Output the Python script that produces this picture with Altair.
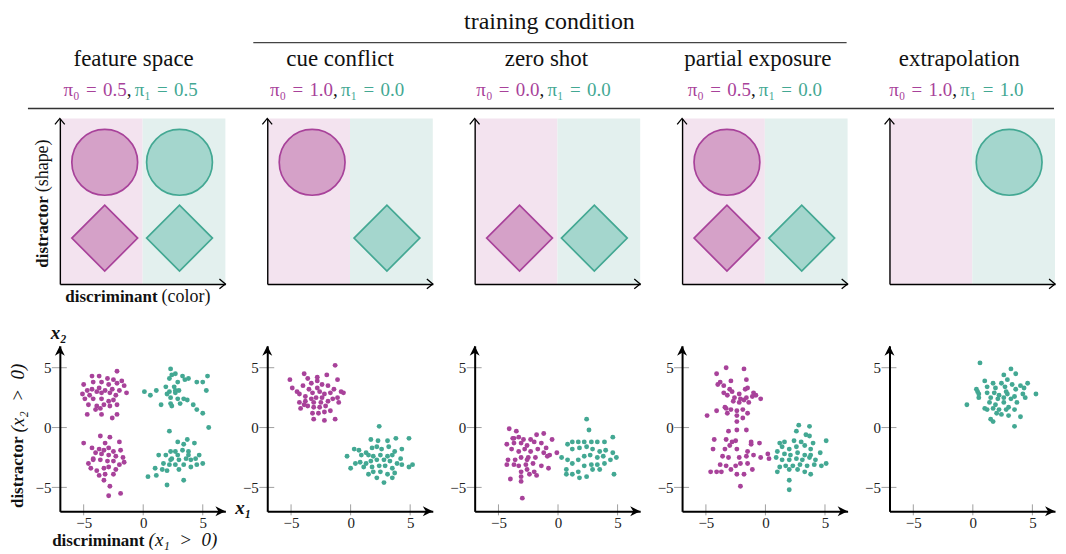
import altair as alt
import pandas as pd

# ---------------- data ----------------
COLUMN_TITLES = ["feature space", "cue conflict", "zero shot", "partial exposure", "extrapolation"]
PI0 = ["0.5", "1.0", "0.0", "0.5", "1.0"]
PI1 = ["0.5", "0.0", "0.0", "0.0", "1.0"]
GROUP_TITLE = "training condition"
CLASSES = ["0", "1"]
SHAPES = ["circle", "diamond"]
CONCEPT_ITEMS = [
    [("0", "circle"), ("1", "circle"), ("0", "diamond"), ("1", "diamond")],
    [("0", "circle"), ("1", "diamond")],
    [("0", "diamond"), ("1", "diamond")],
    [("0", "circle"), ("0", "diamond"), ("1", "diamond")],
    [("1", "circle")],
]
CLASS_POS = {"0": 45, "1": 120}
SHAPE_POS = {"circle": 122, "diamond": 46}
TICK_VALUES = [-5, 0, 5]

FS_0 = [(-2.2,4.7),(-4.3,4.3),(-3.7,4.3),(-3.0,4.1),(-2.5,4.0),(-1.8,3.9),(-5.0,3.6),(-4.2,3.8),(-3.5,3.8),(-2.9,3.6),
        (-2.2,3.7),(-1.6,3.5),(-4.7,3.1),(-4.3,3.2),(-3.7,3.3),(-3.2,3.1),(-2.6,3.2),(-2.0,3.1),(-1.4,2.9),(-5.1,2.8),
        (-4.5,2.7),(-3.9,3.0),(-3.5,2.9),(-2.8,2.9),(-2.3,2.7),(-4.9,2.4),(-4.2,2.4),(-3.5,2.4),(-2.9,2.2),(-2.5,2.3),
        (-4.6,1.9),(-3.9,1.8),(-3.3,1.9),(-2.8,1.8),(-2.2,1.9),(-4.0,1.5),(-3.6,1.6),(-4.7,1.1),(-3.5,1.1),(-2.6,0.8),(-2.2,1.1),
        (-5.0,-1.3),(-3.6,-0.7),(-2.8,-0.8),(-3.2,-1.3),(-2.0,-1.2),(-4.3,-1.7),(-3.7,-1.8),(-3.3,-1.9),(-2.9,-1.7),(-2.5,-2.0),
        (-1.9,-1.9),(-4.0,-2.1),(-3.5,-2.2),(-2.9,-2.3),(-2.3,-2.4),(-1.7,-2.5),(-4.6,-3.0),(-4.2,-2.7),(-3.6,-2.7),(-3.0,-2.8),
        (-2.5,-2.8),(-2.0,-3.1),(-4.4,-3.4),(-3.9,-3.6),(-3.3,-3.4),(-2.9,-3.3),(-2.3,-3.5),(-3.7,-4.0),(-3.2,-3.9),(-2.5,-3.9),
        (-3.3,-4.4),(-2.8,-4.9),(-2.9,-5.7),(-1.9,-5.5),(-4.2,-2.6),(-1.6,-2.9)]
FS_1 = [(0.1,3.0),(1.1,3.1),(0.6,2.7),(2.3,4.9),(2.4,4.4),(2.7,4.5),(3.3,4.3),(3.8,4.1),(4.5,3.8),(5.0,3.8),(5.4,4.3),
        (5.3,3.1),(2.2,4.1),(2.9,3.8),(3.5,4.0),(1.9,3.4),(2.6,3.4),(3.0,3.1),(2.7,2.9),(2.0,2.8),(2.3,2.5),(2.9,2.4),
        (3.4,2.4),(3.1,2.0),(1.5,1.9),(2.4,1.8),(3.7,2.3),(4.2,1.9),(4.5,1.5),(5.0,1.2),(2.3,2.0),(2.7,3.1),(2.2,3.0),(5.5,0.0),
        (2.2,-0.3),(3.7,-1.0),(2.9,-1.2),(3.4,-1.4),(4.3,-1.3),(4.7,-2.3),(2.3,-2.0),(2.7,-2.0),(3.3,-1.9),(3.8,-2.0),
        (4.4,-2.6),(5.0,-3.0),(1.3,-2.3),(1.9,-2.3),(2.4,-2.6),(3.0,-2.7),(3.6,-2.6),(4.0,-2.7),(4.5,-3.1),(1.7,-3.0),
        (2.2,-3.1),(2.7,-3.1),(3.4,-3.1),(4.0,-3.3),(1.0,-3.4),(1.6,-3.5),(2.0,-3.6),(3.0,-3.5),(1.1,-4.0),(0.4,-4.1),
        (2.0,-4.8),(3.4,-4.4),(2.3,-2.7),(2.9,-2.3),(3.8,-2.3)]
CC_0 = [(-5.1,4.0),(-3.9,4.5),(-3.6,4.1),(-2.8,4.2),(-2.0,4.4),(-1.3,5.2),(-1.1,4.0),(-4.9,3.3),(-4.5,3.0),(-4.0,3.5),
        (-3.3,3.7),(-2.8,3.9),(-2.4,3.6),(-1.9,3.5),(-1.4,3.2),(-0.8,3.0),(-0.6,2.9),(-4.3,2.8),(-3.8,2.6),(-3.2,2.9),
        (-2.6,3.0),(-2.2,2.8),(-1.7,2.9),(-1.1,2.5),(-4.3,2.1),(-3.8,2.2),(-3.3,2.4),(-2.9,2.5),(-2.5,2.1),(-1.9,2.2),
        (-1.5,2.4),(-1.0,2.1),(-4.2,1.6),(-3.6,1.8),(-3.1,1.7),(-2.6,1.7),(-2.1,1.8),(-1.7,1.4),(-3.9,1.9),(-3.2,1.2),
        (-2.7,1.2),(-2.2,1.3),(-3.1,0.7),(-2.2,0.6),(-1.3,0.7),(-2.8,3.3),(-3.5,3.2),(-3.1,2.1),(-2.4,2.5)]
CC_1 = [(2.4,0.1),(1.7,-1.0),(2.3,-1.1),(3.1,-1.1),(3.8,-0.9),(4.9,-0.9),(0.3,-1.8),(0.7,-1.9),(1.3,-2.1),(1.8,-1.7),
        (2.2,-1.6),(2.6,-1.8),(3.2,-1.6),(3.7,-2.0),(4.3,-1.8),(-0.3,-2.4),(0.9,-2.3),(1.5,-2.3),(1.9,-2.4),(2.5,-2.3),
        (3.1,-2.4),(3.5,-2.3),(4.2,-2.6),(0.0,-3.4),(0.4,-3.0),(0.8,-2.9),(1.3,-3.0),(1.7,-2.8),(2.2,-2.7),(2.8,-2.7),
        (3.3,-2.8),(3.9,-3.0),(4.3,-3.1),(1.1,-3.3),(1.8,-3.3),(2.4,-3.2),(2.9,-3.2),(3.5,-3.4),(1.5,-3.9),(1.9,-3.7),
        (2.5,-3.7),(3.1,-3.9),(3.7,-3.8),(4.9,-3.3),(5.2,-3.1),(2.2,-4.2),(2.8,-4.6),(3.5,-4.2)]
ZS_0 = [(-4.1,-0.1),(-3.5,-0.3),(-3.8,-0.9),(-3.3,-0.8),(-2.9,-1.0),(-2.3,-1.0),(-1.8,-0.6),(-1.2,-0.5),(-4.3,-1.4),
        (-3.7,-1.3),(-3.1,-1.3),(-2.6,-1.5),(-2.0,-1.2),(-1.4,-1.3),(-1.0,-1.7),(-0.5,-1.0),(-3.9,-1.8),(-3.3,-2.0),
        (-2.8,-1.8),(-2.3,-2.0),(-1.7,-1.8),(-1.2,-2.1),(-0.7,-2.3),(-0.1,-2.1),(-4.2,-2.7),(-3.6,-2.7),(-3.1,-2.5),
        (-2.5,-2.5),(-1.9,-2.5),(-0.9,-2.4),(-4.3,-3.1),(-3.7,-3.1),(-3.3,-3.2),(-2.7,-3.1),(-2.1,-3.0),(-1.4,-3.2),
        (-0.8,-3.4),(-3.1,-3.7),(-2.6,-3.5),(-2.0,-3.7),(-4.0,-4.3),(-3.1,-4.1),(-2.4,-3.9),(-1.8,-4.0),(-3.1,-4.5),
        (-3.0,-5.9),(-3.7,-0.9),(-2.6,-2.7)]
ZS_1 = [(2.4,0.7),(2.6,-0.2),(1.2,-1.2),(0.8,-1.4),(1.7,-1.2),(2.2,-1.2),(2.8,-1.2),(3.3,-1.2),(3.9,-1.2),(4.6,-0.8),
        (0.3,-2.5),(0.8,-2.7),(1.2,-1.8),(1.8,-1.7),(2.4,-1.6),(2.9,-1.8),(3.5,-2.0),(4.0,-1.9),(4.6,-2.1),(4.9,-2.5),
        (0.7,-3.5),(1.2,-3.0),(1.7,-2.7),(2.2,-2.4),(2.7,-2.3),(3.3,-2.5),(3.8,-2.4),(4.4,-2.7),(4.7,-3.9),(1.7,-3.7),
        (2.2,-3.2),(2.8,-3.1),(3.3,-3.1),(3.9,-3.0),(1.2,-3.9),(1.8,-4.2),(2.4,-4.1),(2.9,-3.5),(3.5,-3.5),(0.7,-3.9)]
PE_0 = [(-3.3,5.0),(-1.8,4.9),(-4.1,4.5),(-3.8,3.8),(-2.9,3.9),(-1.6,4.0),(-3.5,3.5),(-3.0,3.2),(-4.0,3.6),(-3.5,2.9),
        (-2.8,3.0),(-2.2,2.8),(-1.7,3.2),(-1.5,3.3),(-1.0,2.9),(-0.8,2.7),(-3.2,2.7),(-2.6,2.5),(-2.1,2.4),(-1.6,2.5),
        (-1.1,2.6),(-0.4,2.4),(-2.7,2.2),(-2.2,2.1),(-1.8,2.3),(-1.4,2.1),(-4.1,1.4),(-3.3,1.6),(-2.9,1.5),(-2.4,1.4),
        (-1.9,1.5),(-1.5,1.2),(-4.9,1.0),(-3.2,1.2),(-2.4,1.0),(-1.9,0.8),(-2.4,0.5),(-3.4,1.7),
        (-3.1,-0.3),(-2.4,-0.2),(-1.6,-0.2),(-4.3,-1.0),(-3.3,-1.0),(-2.5,-1.1),(-2.8,-1.2),(-3.0,-1.5),(-1.2,-1.2),
        (-0.5,-1.3),(-4.4,-1.8),(-3.4,-1.8),(-2.4,-1.8),(-1.5,-2.0),(-1.2,-1.4),(-3.6,-2.4),(-3.1,-2.5),(-2.2,-2.5),
        (-1.6,-2.4),(-1.0,-2.3),(0.2,-2.2),(-0.4,-2.5),(0.3,-2.6),(-3.8,-3.1),(-3.3,-3.2),(-2.9,-3.5),(-2.5,-3.2),
        (-2.1,-3.0),(-1.5,-3.0),(-1.1,-3.5),(-4.1,-3.7),(-3.7,-3.7),(-2.4,-3.9),(-1.8,-3.9),(-2.1,-4.9),(-4.6,-3.7)]
PE_1 = [(2.8,0.2),(3.7,0.1),(2.6,-0.3),(3.4,-0.6),(3.7,-0.7),(5.1,-1.1),(1.2,-1.3),(1.6,-1.2),(2.4,-1.1),(3.0,-1.2),
        (4.0,-1.3),(1.4,-1.6),(2.0,-1.8),(2.6,-1.6),(3.3,-1.5),(3.8,-1.8),(4.6,-2.1),(1.0,-2.0),(1.6,-2.2),(2.1,-2.3),
        (2.7,-2.1),(3.3,-2.3),(3.8,-2.3),(0.9,-2.5),(1.4,-2.7),(2.0,-2.7),(2.6,-2.6),(3.1,-2.7),(3.7,-2.5),(4.2,-2.7),
        (5.1,-3.0),(1.2,-3.3),(1.7,-3.2),(2.3,-3.2),(2.9,-3.1),(3.5,-3.2),(4.1,-3.1),(4.7,-3.2),(1.0,-3.7),(2.0,-3.5),
        (2.7,-3.5),(3.3,-3.7),(3.8,-3.9),(2.0,-4.4),(2.0,-5.2)]
EX_0 = []
EX_1 = [(0.6,5.4),(3.2,4.9),(3.6,4.5),(2.6,4.4),(2.9,4.0),(1.0,3.9),(1.7,3.7),(2.4,3.7),(3.3,3.6),(4.0,3.5),(4.6,3.7),
        (0.3,3.2),(1.2,3.4),(1.9,3.3),(2.7,3.4),(3.6,3.2),(4.3,3.3),(5.3,2.8),(0.4,3.0),(1.2,2.9),(1.8,2.9),(2.2,2.7),
        (2.9,2.8),(3.5,2.6),(4.2,2.8),(-0.5,1.9),(0.5,2.5),(1.5,2.5),(2.1,2.4),(2.6,2.5),(3.2,2.4),(3.7,2.1),(4.4,2.5),
        (1.4,2.1),(1.9,1.9),(2.6,2.1),(3.0,1.7),(1.0,1.6),(1.7,1.6),(2.2,1.5),(2.8,1.5),(3.5,1.5),(1.2,1.5),(2.0,1.2),
        (2.4,1.1),(3.0,1.0),(1.5,0.7),(1.7,0.5),(4.0,0.9),(3.5,0.1),(0.5,2.8),(2.8,3.0)]
SCATTER = [(FS_0, FS_1), (CC_0, CC_1), (ZS_0, ZS_1), (PE_0, PE_1), (EX_0, EX_1)]

# ---------------- styles / layout ----------------
MAGENTA = "#a8429a"
TEAL = "#43a893"
PINK_BG = "#f3e3ef"
TEAL_BG = "#e3f0ee"
PINK_FILL = "#d5a1c8"
TEAL_FILL = "#a4d6cd"
TICK_GRAY = "#a0a0a0"
SERIF = "Liberation Serif"
SP = "\u2004"   # slightly wider space for math-like spacing
EN = "\u2002"

PW, PH = 166, 166
COL_GAP, ROW_GAP = 42, 62
C_DOM = [0, 166]
SX_DOM = [-7, 6.9]
SY_DOM = [-7, 6.83]
PXX = PW / (SX_DOM[1] - SX_DOM[0])
PXY = PH / (SY_DOM[1] - SY_DOM[0])
TITLE_X = [74, 73, 72, 76, 70]
Y_GROUP_TEXT, Y_GROUP_RULE, Y_TITLE, Y_PI, Y_TOP_RULE = 256, 242, 219, 189, 176
GROUP_RULE_X = (-14, 581)
GROUP_TEXT_X = 75
TOP_RULE_X = (-32, 997)
SHAPE_SIZE = 4356

RIGHT_CHEVRON = "M-1.7,-1.4L0,0L-1.7,1.4"
UP_CHEVRON = "M-1.4,1.7L0,0L1.4,1.7"
RIGHT_STEALTH = "M0,0L-2,-1L-1.4,0L-2,1Z"
UP_STEALTH = "M0,0L-1,2L0,1.4L1,2Z"


def c_axis():
    return alt.Axis(title=None, labels=False, ticks=False, grid=False,
                    domainColor="black", domainWidth=1.4, zindex=1)


def cX(f="x"):
    return alt.X(f"{f}:Q", scale=alt.Scale(domain=C_DOM, nice=False, zero=False), axis=c_axis())


def cY(f="y"):
    return alt.Y(f"{f}:Q", scale=alt.Scale(domain=C_DOM, nice=False, zero=False), axis=c_axis())


def c_text(rows, **kw):
    return alt.Chart(pd.DataFrame(rows)).mark_text(font=SERIF, **kw).encode(x=cX(), y=cY(), text="t:N")


def concept_panel(i):
    bg = pd.DataFrame({"x": [C_DOM[0], sum(C_DOM) / 2], "x2": [sum(C_DOM) / 2, C_DOM[1]],
                       "y": [C_DOM[0]] * 2, "y2": [C_DOM[1]] * 2, "cls": CLASSES})
    layers = [
        alt.Chart(bg).mark_rect().encode(
            x=cX(), x2="x2:Q", y=cY(), y2="y2:Q",
            color=alt.Color("cls:N", scale=alt.Scale(domain=CLASSES, range=[PINK_BG, TEAL_BG]), legend=None)),
    ]
    items = pd.DataFrame({"cls": [c for c, s in CONCEPT_ITEMS[i]], "shape": [s for c, s in CONCEPT_ITEMS[i]]})
    items["x"] = items["cls"].map(CLASS_POS)
    items["y"] = items["shape"].map(SHAPE_POS)
    layers.append(alt.Chart(items).mark_point(filled=True, size=SHAPE_SIZE, strokeWidth=1.7, opacity=1).encode(
        x=cX(), y=cY(),
        shape=alt.Shape("shape:N", scale=alt.Scale(domain=SHAPES, range=SHAPES), legend=None),
        fill=alt.Fill("cls:N", scale=alt.Scale(domain=CLASSES, range=[PINK_FILL, TEAL_FILL]), legend=None),
        stroke=alt.Stroke("cls:N", scale=alt.Scale(domain=CLASSES, range=[MAGENTA, TEAL]), legend=None)))
    # arrow heads
    layers.append(alt.Chart(pd.DataFrame({"x": [C_DOM[1]], "y": [C_DOM[0]]})).mark_point(
        shape=RIGHT_CHEVRON, filled=False, stroke="black", strokeWidth=1.3, size=49, opacity=1).encode(x=cX(), y=cY()))
    layers.append(alt.Chart(pd.DataFrame({"x": [C_DOM[0]], "y": [C_DOM[1]]})).mark_point(
        shape=UP_CHEVRON, filled=False, stroke="black", strokeWidth=1.3, size=49, opacity=1).encode(x=cX(), y=cY()))
    # header texts
    tx = TITLE_X[i]
    layers.append(c_text([{"x": tx, "y": Y_TITLE, "t": COLUMN_TITLES[i]}], fontSize=23, color="#111",
                         align="center", baseline="alphabetic"))
    layers.append(c_text([{"x": tx - 7, "y": Y_PI, "t": f"π₀{SP}={SP}{PI0[i]}"}], fontSize=19, color=MAGENTA,
                         align="right", baseline="alphabetic"))
    layers.append(c_text([{"x": tx - 7, "y": Y_PI, "t": ","}], fontSize=19, color="#111",
                         align="left", baseline="alphabetic"))
    layers.append(c_text([{"x": tx + 1, "y": Y_PI, "t": f"π₁{SP}={SP}{PI1[i]}"}], fontSize=19, color=TEAL,
                         align="left", baseline="alphabetic"))
    if i == 0:
        layers.append(alt.Chart(pd.DataFrame({"x": [TOP_RULE_X[0]], "x2": [TOP_RULE_X[1]], "y": [Y_TOP_RULE]}))
                      .mark_rule(color="#333", strokeWidth=1.6).encode(x=cX(), x2="x2:Q", y=cY()))
        layers.append(c_text([{"x": -17, "y": 88, "t": "distractor"}], fontSize=17, fontWeight="bold",
                             color="#111", angle=270, align="right", baseline="middle"))
        layers.append(c_text([{"x": -17, "y": 92, "t": "(shape)"}], fontSize=18,
                             color="#111", angle=270, align="left", baseline="middle"))
        layers.append(c_text([{"x": 98, "y": -18, "t": "discriminant"}], fontSize=17, fontWeight="bold",
                             color="#111", align="right", baseline="alphabetic"))
        layers.append(c_text([{"x": 102, "y": -18, "t": "(color)"}], fontSize=18,
                             color="#111", align="left", baseline="alphabetic"))
    if i == 1:
        layers.append(alt.Chart(pd.DataFrame({"x": [GROUP_RULE_X[0]], "x2": [GROUP_RULE_X[1]], "y": [Y_GROUP_RULE]}))
                      .mark_rule(color="#444", strokeWidth=1.2).encode(x=cX(), x2="x2:Q", y=cY()))
    if i == 2:
        layers.append(c_text([{"x": GROUP_TEXT_X, "y": Y_GROUP_TEXT, "t": GROUP_TITLE}], fontSize=24,
                             color="#111", align="center", baseline="alphabetic"))
    return alt.layer(*layers).properties(width=PW, height=PH)


def s_axis(pad):
    return alt.Axis(title=None, values=TICK_VALUES, ticks=False, grid=False, domainColor="black",
                    domainWidth=2, labelPadding=pad, labelFontSize=15, labelFont=SERIF,
                    labelColor="#222", zindex=1, labelFlush=False, labelOverlap=False)


def sX(f="x"):
    return alt.X(f"{f}:Q", scale=alt.Scale(domain=SX_DOM, nice=False, zero=False), axis=s_axis(4))


def sY(f="y"):
    return alt.Y(f"{f}:Q", scale=alt.Scale(domain=SY_DOM, nice=False, zero=False), axis=s_axis(9))


def s_text(rows, **kw):
    return alt.Chart(pd.DataFrame(rows)).mark_text(font=SERIF, **kw).encode(x=sX(), y=sY(), text="t:N")


def scatter_panel(i):
    pts0, pts1 = SCATTER[i]
    df = pd.DataFrame([{"x": x, "y": y, "cls": "0"} for x, y in pts0] +
                      [{"x": x, "y": y, "cls": "1"} for x, y in pts1])
    ytick = pd.DataFrame({"x": [SX_DOM[0] - 8 / PXX] * 3, "x2": [SX_DOM[0] + 7 / PXX] * 3, "y": TICK_VALUES})
    xtick = pd.DataFrame({"x": TICK_VALUES, "y": [SY_DOM[0] - 4 / PXY] * 3, "y2": [SY_DOM[0] + 7 / PXY] * 3})
    layers = [
        alt.Chart(ytick).mark_rule(color=TICK_GRAY, strokeWidth=1).encode(x=sX(), x2="x2:Q", y=sY()),
        alt.Chart(xtick).mark_rule(color=TICK_GRAY, strokeWidth=1).encode(x=sX(), y=sY(), y2="y2:Q"),
        alt.Chart(df).mark_circle(size=24, opacity=1).encode(
            x=sX(), y=sY(),
            color=alt.Color("cls:N", scale=alt.Scale(domain=CLASSES, range=[MAGENTA, TEAL]), legend=None)),
        alt.Chart(pd.DataFrame({"x": [SX_DOM[1]], "y": [SY_DOM[0]]})).mark_point(
            shape=RIGHT_STEALTH, filled=True, color="black", size=100, opacity=1).encode(x=sX(), y=sY()),
        alt.Chart(pd.DataFrame({"x": [SX_DOM[0]], "y": [SY_DOM[1]]})).mark_point(
            shape=UP_STEALTH, filled=True, color="black", size=100, opacity=1).encode(x=sX(), y=sY()),
    ]
    if i == 0:
        layers.append(s_text([{"x": -10.52, "y": -0.75, "t": "distractor"}], fontSize=17, fontWeight="bold",
                             color="#111", angle=270, align="right", baseline="middle"))
        layers.append(s_text([{"x": -10.52, "y": -0.41, "t": f"(x₂{EN}>{EN}0)"}], fontSize=19, fontStyle="italic",
                             color="#111", angle=270, align="left", baseline="middle"))
        layers.append(s_text([{"x": 0.1, "y": -9.9, "t": "discriminant"}], fontSize=17, fontWeight="bold",
                             color="#111", align="right", baseline="alphabetic"))
        layers.append(s_text([{"x": 0.45, "y": -9.9, "t": f"(x₁{EN}>{EN}0)"}], fontSize=19, fontStyle="italic",
                             color="#111", align="left", baseline="alphabetic"))
        layers.append(s_text([{"x": -7.08, "y": 7.9, "t": "x₂"}], fontSize=19, fontStyle="italic",
                             fontWeight="bold", color="#111", align="center", baseline="middle"))
        layers.append(s_text([{"x": 8.41, "y": -6.75, "t": "x₁"}], fontSize=19, fontStyle="italic",
                             fontWeight="bold", color="#111", align="center", baseline="middle"))
    return alt.layer(*layers).properties(width=PW, height=PH)


panels = [concept_panel(i) for i in range(5)] + [scatter_panel(i) for i in range(5)]
chart = (alt.concat(*panels, columns=5, spacing={"row": ROW_GAP, "column": COL_GAP}, bounds="flush")
         .resolve_scale(color="independent", fill="independent", stroke="independent", shape="independent")
         .properties(padding=0, background="white")
         .configure_view(stroke=None))

chart.save("out.html", embed_options={"renderer": "svg", "actions": False})
